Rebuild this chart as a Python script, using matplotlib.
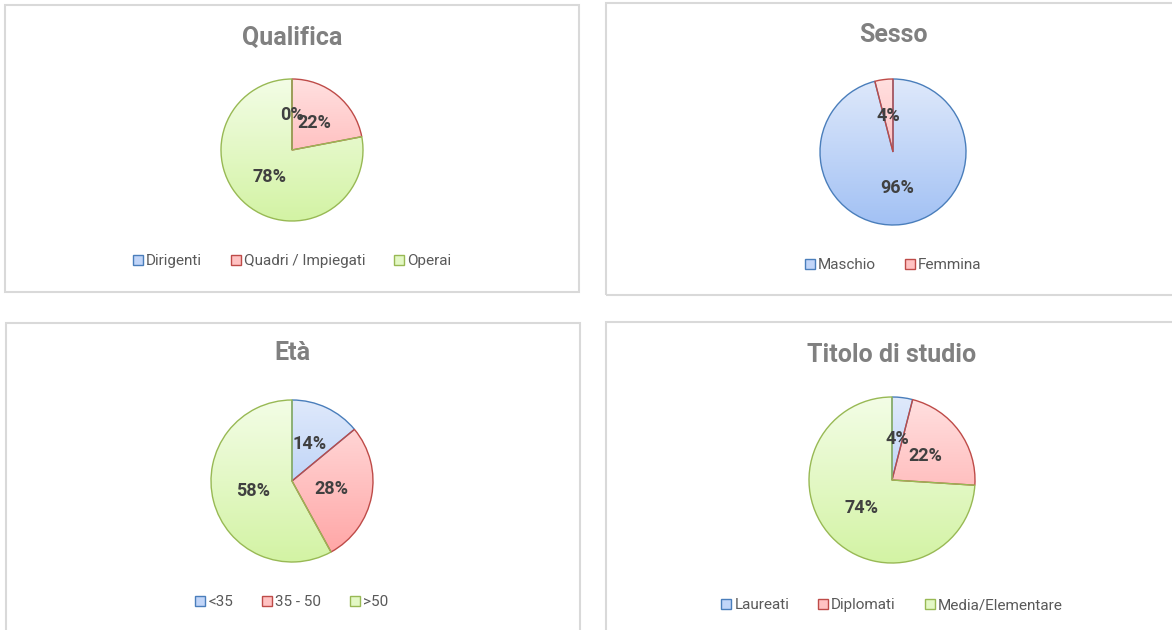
import numpy as np
import matplotlib
matplotlib.use("Agg")
import matplotlib.pyplot as plt
from matplotlib.patches import Rectangle, Patch

plt.rcParams['font.family'] = ['Roboto', 'DejaVu Sans']

# chart data
qualifica_labels = ["Dirigenti", "Quadri / Impiegati", "Operai"]
qualifica_values = [0, 22, 78]

sesso_labels = ["Maschio", "Femmina"]
sesso_values = [96, 4]

eta_labels = ["<35", "35 - 50", ">50"]
eta_values = [14, 28, 58]

titolo_labels = ["Laureati", "Diplomati", "Media/Elementare"]
titolo_values = [4, 22, 74]

W, H = 1172, 630

# fill gradient (top, bottom) and edge colour for each series colour
palette = [
    ("#dfe9fb", "#a2c1f4", "#4a7ebb"),  # blue
    ("#ffe0e0", "#ffa3a3", "#be4b48"),  # red
    ("#f3fde6", "#d3f3a4", "#98b954"),  # green
]


def hex2rgb(h):
    return np.array([int(h[i:i + 2], 16) / 255 for i in (1, 3, 5)])


def gradient(top, bottom):
    t = np.linspace(0, 1, 256)[:, None]
    img = hex2rgb(top)[None, :] * (1 - t) + hex2rgb(bottom)[None, :] * t
    return img[:, None, :]


def mid(top, bottom):
    return (hex2rgb(top) + hex2rgb(bottom)) / 2


fig = plt.figure(figsize=(W / 100, H / 100), dpi=100)

# panel frames (pixel boxes: left, top, right, bottom)
panels = [(5, 5, 579, 292), (606, 3, 1180, 295),
          (6, 323, 580, 640), (606, 322, 1180, 640)]
for x0, y0, x1, y1 in panels:
    fig.patches.append(Rectangle((x0 / W, 1 - y1 / H), (x1 - x0) / W, (y1 - y0) / H,
                                 transform=fig.transFigure, fill=False,
                                 edgecolor="#d9d9d9", lw=1.5))


def draw_pie(title, labels, values, cx, cy, r, title_y, legend_y):
    pad = 1.1
    ax = fig.add_axes([(cx - r * pad) / W, 1 - (cy + r * pad) / H,
                       2 * r * pad / W, 2 * r * pad / H])
    cols = palette[:len(values)]
    wedges, _, autotexts = ax.pie(
        values, startangle=90, counterclock=False, radius=1,
        colors=[c[1] for c in cols], autopct="%1.0f%%", pctdistance=0.5,
        labels=None, wedgeprops=dict(linewidth=1.0))
    for w, c in zip(wedges, cols):
        w.set_edgecolor(c[2])
        im = ax.imshow(gradient(c[0], c[1]), extent=(-1, 1, -1, 1),
                       aspect="auto", zorder=w.get_zorder() - 0.01)
        im.set_clip_path(w)
        w.set_facecolor("none")
    for t in autotexts:
        t.set_fontsize(13)
        t.set_fontweight("bold")
        t.set_color("#404040")
    ax.set_xlim(-pad, pad)
    ax.set_ylim(-pad, pad)
    ax.set_axis_off()

    fig.text(cx / W, 1 - title_y / H, title, ha="center", va="center",
             fontsize=18, fontweight="bold", color="#808080")

    handles = [Patch(facecolor=mid(c[0], c[1]), edgecolor=c[2], lw=1.0) for c in cols]
    fig.legend(handles, labels, loc="center", ncol=len(labels),
               bbox_to_anchor=(cx / W, 1 - legend_y / H), frameon=False,
               fontsize=11, labelcolor="#595959", handlelength=0.65,
               handleheight=0.65, handletextpad=0.2, columnspacing=1.9)


draw_pie("Qualifica", qualifica_labels, qualifica_values, 292, 150, 71, 38, 261)
draw_pie("Sesso", sesso_labels, sesso_values, 893, 152, 73, 35, 265)
draw_pie("Età", eta_labels, eta_values, 292, 481, 81, 353, 602)
draw_pie("Titolo di studio", titolo_labels, titolo_values, 892, 480, 83, 355, 605)

fig.savefig("out.png", dpi=100, facecolor="white")
